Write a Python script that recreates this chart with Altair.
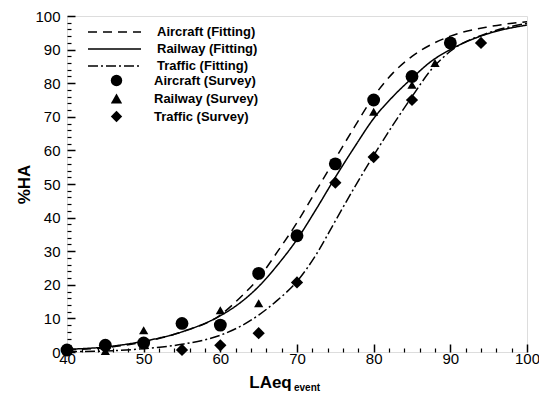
import altair as alt
import pandas as pd

# ---- fitted curves ----
fit_x = [40, 45, 50, 55, 60, 62.5, 65, 67.5, 70, 72.5, 75, 77.5, 80, 82.5, 85, 87.5, 90, 95, 100]
aircraft_fit = [0.6, 1.3, 3.0, 6.0, 11.0, 16.0, 22.0, 30.0, 38.5, 48.0, 57.5, 67.0, 76.0, 83.0, 88.0, 91.5, 94.0, 96.8, 98.3]
railway_fit = [0.8, 1.5, 3.2, 6.0, 10.8, 14.5, 19.5, 26.0, 33.5, 42.5, 52.0, 61.0, 69.5, 76.0, 81.5, 86.5, 90.0, 94.8, 97.3]
traffic_fit = [0.1, 0.3, 1.0, 2.3, 5.0, 7.5, 11.0, 15.5, 21.0, 29.0, 39.0, 49.0, 58.5, 67.5, 76.0, 84.0, 89.5, 95.0, 97.8]

# ---- survey points ----
aircraft_x = [40, 45, 50, 55, 60, 65, 70, 75, 80, 85, 90]
aircraft_y = [0.6, 2.0, 2.7, 8.5, 8.0, 23.4, 34.6, 56.0, 75.0, 82.0, 92.0]
railway_x = [45, 50, 60, 65, 80, 85, 88]
railway_y = [0.3, 6.5, 12.4, 14.5, 71.5, 79.5, 86.0]
traffic_x = [55, 60, 65, 70, 75, 80, 85, 94]
traffic_y = [0.6, 2.0, 5.6, 20.7, 50.4, 58.0, 75.0, 92.0]

fit_names = ["Aircraft (Fitting)", "Railway (Fitting)", "Traffic (Fitting)"]
survey_names = ["Aircraft (Survey)", "Railway (Survey)", "Traffic (Survey)"]

# tick positions (every 2, labelled every 10)
x_ticks = list(range(40, 101, 2))
y_ticks = list(range(0, 101, 2))

rows = []
for name, ys in zip(fit_names, [aircraft_fit, railway_fit, traffic_fit]):
    for xv, yv in zip(fit_x, ys):
        rows.append({"x": xv, "y": yv, "series": name})
fit_df = pd.DataFrame(rows)

W, H = 460, 336
FONT = "Liberation Sans"
xs = alt.Scale(domain=[40, 100], nice=False, zero=False)
ys = alt.Scale(domain=[0, 100], nice=False, zero=False)

tick_len = {"condition": {"test": "datum.value % 10 === 0", "value": 8}, "value": 4}
tick_w = {"condition": {"test": "datum.value % 10 === 0", "value": 1.5}, "value": 1.2}
only10 = "datum.value % 10 === 0 ? datum.label : ''"

# x axis drawn from the top orientation but moved to the bottom edge: ticks point inward
ax_x = alt.Axis(
    orient="top", offset=-H, values=x_ticks, ticks=True, tickSize=tick_len, tickWidth=tick_w,
    tickColor="black", domain=False, grid=False, labelExpr=only10,
    labelBaseline="top", labelPadding=-7, labelFontSize=15, labelFont=FONT,
    labelColor="black", labelOverlap=False, labelFlush=False,
    title="LAeq", titleFont=FONT, titleFontSize=17, titleFontWeight="bold",
    titleX=203, titleY=35, titleAlign="center", titleBaseline="alphabetic", titleColor="black")
# y axis drawn from the right orientation but moved to the left edge
ax_y = alt.Axis(
    orient="right", offset=-W, values=y_ticks, ticks=True, tickSize=tick_len, tickWidth=tick_w,
    tickColor="black", domain=False, grid=False, labelExpr=only10,
    labelAlign="right", labelPadding=-15, labelFontSize=15, labelFont=FONT,
    labelColor="black", labelOverlap=False, labelFlush=False,
    title="%HA", titleFont=FONT, titleFontSize=17, titleFontWeight="bold",
    titleX=-38, titleY=H / 2, titleAngle=-90, titleAlign="center",
    titleBaseline="alphabetic", titleColor="black")

lines = alt.Chart(fit_df).mark_line(color="black", strokeWidth=1.5, interpolate="monotone").encode(
    x=alt.X("x:Q", scale=xs, axis=ax_x),
    y=alt.Y("y:Q", scale=ys, axis=ax_y),
    strokeDash=alt.StrokeDash("series:N", scale=alt.Scale(
        domain=fit_names, range=[[9, 6], [1, 0], [10, 3, 2, 3]]),
        legend=alt.Legend(orient="none", legendX=20, legendY=10, title=None, padding=0,
                          symbolType="stroke", symbolSize=2809, symbolStrokeWidth=1.5,
                          symbolStrokeColor="black", clipHeight=12, rowPadding=4,
                          labelOffset=15, labelFont=FONT, labelFontSize=13,
                          labelFontWeight="bold", labelColor="black")),
)

pt_legend = alt.Legend(orient="none", legendX=43, legendY=58, title=None, padding=0,
                       clipHeight=13, rowPadding=4, labelOffset=31, symbolSize=130,
                       symbolFillColor="black", symbolStrokeColor="black", symbolStrokeWidth=0,
                       labelFont=FONT, labelFontSize=13, labelFontWeight="bold", labelColor="black")
shape_scale = alt.Scale(domain=survey_names, range=["circle", "triangle-up", "diamond"])


def survey_layer(name, xs_, ys_, size):
    df = pd.DataFrame({"x": xs_, "y": ys_, "series": [name] * len(xs_)})
    return alt.Chart(df).mark_point(filled=True, color="black", opacity=1, size=size).encode(
        x=alt.X("x:Q", scale=xs, axis=ax_x),
        y=alt.Y("y:Q", scale=ys, axis=ax_y),
        shape=alt.Shape("series:N", scale=shape_scale, legend=pt_legend),
    )


pa = survey_layer(survey_names[0], aircraft_x, aircraft_y, 165)
pr = survey_layer(survey_names[1], railway_x, railway_y, 85)
pt = survey_layer(survey_names[2], traffic_x, traffic_y, 150)

sub = alt.Chart(pd.DataFrame({"t": ["event"]})).mark_text(
    align="left", baseline="alphabetic", font=FONT, fontSize=10, fontWeight="bold", color="black"
).encode(text="t:N", x=alt.value(227), y=alt.value(H + 39))

chart = alt.layer(lines, pa, pr, pt, sub).properties(
    width=W, height=H,
    autosize=alt.AutoSizeParams(type="none"),
    padding={"left": 59, "top": 8, "right": 12, "bottom": 40},
).configure_view(stroke="black", strokeWidth=2).configure(font=FONT)

chart.save("out.html", embed_options={"renderer": "svg", "actions": False})
